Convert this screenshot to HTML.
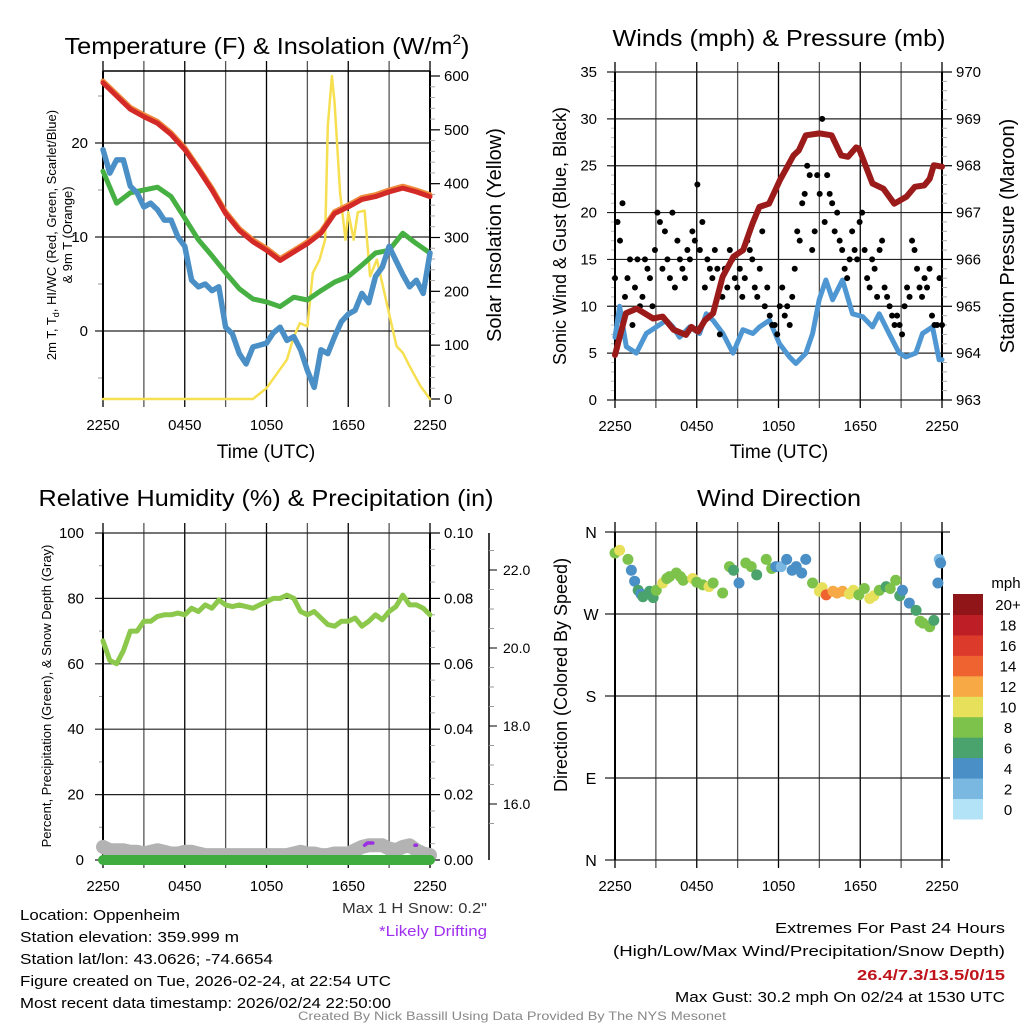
<!DOCTYPE html>
<html><head><meta charset="utf-8"><style>
html,body{margin:0;padding:0;background:#fff;}
svg{display:block;font-family:"Liberation Sans",sans-serif;}
</style></head><body>
<svg id="fig" width="1024" height="1024" viewBox="0 0 1024 1024" xmlns="http://www.w3.org/2000/svg"></svg>
<script>
// ---------- DATA ----------
const xTickLabels = ["2250","0450","1050","1650","2250"];
// Panel 1 (hourly, t=0..24)
const tempRed = [26.4,25,23.6,22.8,22.1,20.9,19.3,17.2,15,12.5,10.7,9.5,8.6,7.5,8.4,9.3,10.4,12.5,13.2,14,14.3,14.8,15.2,14.8,14.3];
const tempOrange = [26.6,25.2,23.8,23,22.3,21.1,19.5,17.4,15.2,12.7,10.9,9.7,8.8,7.7,8.6,9.5,10.6,12.7,13.4,14.2,14.5,15,15.4,15,14.5];
const heatWindChill = [17,13.6,14.7,15,15.3,14.3,12,9.7,8,6.2,4.5,3.4,3.1,2.6,3.6,3.3,4.3,5.2,5.8,7,8.3,8.6,10.4,9.3,8.3];
// dewpoint, half-hourly
const dewpoint = [19.3,16.8,18.2,18.2,15.4,14.7,13.2,13.6,12.9,11.8,11.8,10,9,5.4,4.7,5,4.3,4.7,0.4,-0.3,-2.4,-3.5,-1.7,-1.5,-1.3,-0.2,0.4,-1,-0.6,-2,-4.2,-6,-2,-2.4,-0.6,1,1.8,2.2,4,3,5.8,6.8,9,7.5,6,4.7,5.4,4,8.3];
const solarT = [0,11,12,13.5,14,14.45,15,15.4,15.9,16.3,16.5,16.8,17,17.4,17.8,18,18.4,18.7,19.2,19.6,20.1,20.6,21.1,21.55,22,22.5,23.3,24];
const solarVal = [0,0,20,73,116,141,135,234,259,296,507,600,550,383,296,347,296,347,350,228,259,203,147,98,86,61,24,0];
// Panel 2
const windT = [0,0.34,0.83,1.56,2.3,3.03,3.77,4.25,4.74,5.48,6.21,6.7,7.19,7.92,8.66,9.39,10.12,10.61,11.34,12.07,12.8,13.28,14.01,14.5,14.99,15.48,15.97,16.7,17.43,18.17,18.9,19.39,20.12,20.86,21.34,22.08,22.57,23.3,23.79,24];
const windSpeed = [6.7,10,5.7,5,7.1,7.8,8.5,7.8,6.7,7.8,7.1,9.2,8.5,7.1,5,7.5,7.1,7.8,8.5,6,4.6,3.9,5,7.1,10.7,12.8,10.7,12.8,9.2,8.9,7.8,9.2,7.1,5,4.6,5,7.1,7.8,4.3,4.3];
const gusts = [13,19,17,21, 11,13,15,8, 12,15,10,11, 15,14,13,10, 16,20,19,14, 18,15,13,20, 12,17,15,14, 13,16,15,18, 17,23,16,19, 12,15,14,13, 16,14,7,11, 14,12,16,15, 13,12,14,11, 13,17,16,15, 12,11,14,18, 10,12,9,8, 8,7,10,12, 9,10,8,11, 14,18,17,21, 22,25,24,16, 18,24,22,30, 19,24,22,21, 18,20,17,16, 14,13,15,18, 16,15,19,20, 16,13,12,15, 14,11,16,17, 12,11,10,9, 8,9,8,7, 10,12,11,17, 16,14,12,11, 13,12,14,9, 8,8,13,8];
const pressT = [0,0.8,1.6,2.8,3.5,4.3,5.2,5.6,6.1,6.6,7.2,7.9,8.7,9.4,10.1,10.6,11.3,12.1,13.1,13.5,14,15,15.9,16.6,17.1,17.7,17.9,18.9,19.7,20.5,21.4,22,22.7,23.1,23.4,24];
const pressVal = [963.96,964.85,964.95,964.74,964.78,964.5,964.39,964.56,964.46,964.7,964.85,965.63,966.06,966.2,966.77,967.12,967.19,967.69,968.22,968.33,968.65,968.69,968.65,968.22,968.19,968.39,968.37,967.62,967.51,967.19,967.34,967.55,967.58,967.72,968.01,967.98];
// Panel 3 (half-hourly)
const relHum = [67,61,60,64,70,70,73,73,74.5,75,75,75.5,75,77,76,78,77,79.5,78,77.5,78,77.5,77,78,79,80,80,81,80,76,75,76,74,72,71.5,73,73,74,71.5,73,75,73.5,76,77.5,81,78,78,77,75];
const snowDepth = [4,3,3,3,2.5,2.5,2,2.5,3,2.5,2,2,2.5,2.5,2,1.5,1.5,1.5,1.5,1.5,1.5,1.5,1.5,1.5,1.5,1.5,1.5,1.5,2,2.5,2,2,1.5,1.5,2,2,2,3,4,4.5,4.5,4.5,3.5,3,4,4.5,3,2,1.5];
const precip = [0,0,0,0,0,0,0,0,0,0,0,0,0,0,0,0,0,0,0,0,0,0,0,0,0];
// Panel 4
const dirT = [0,0.34,0.95,1.2,1.44,1.7,1.9,2.05,2.54,2.8,3.03,3.5,3.8,4,4.5,4.8,5,5.7,6,6.45,6.9,7.2,7.9,8.4,8.7,9.1,9.6,10,10.4,11.1,11.5,11.8,12.2,12.6,13,13.3,13.7,14,14.5,15,15.2,15.5,16,16.3,16.7,17.2,17.5,17.9,18.3,18.7,19,19.4,19.9,20.2,20.6,20.9,21.1,21.6,22.1,22.4,22.6,23.1,23.4,23.7,23.8,23.9];
const windDir = [337,340,330,318,306,296,292,289,295,288,296,304,309,311,315,311,307,309,305,302,300,304,293,322,318,304,326,322,313,330,320,322,322,330,318,322,315,330,304,295,299,291,295,293,295,292,296,291,298,287,290,296,300,298,307,290,296,282,274,262,260,256,263,304,330,326];
const dirSpeed = [7,10,8,4,4,6,4,6,6,6,8,10,8,8,8,7,7,10,7,8,10,7,7,8,6,4,7,7,6,8,8,4,2,3,4,4,4,4,7,10,10,14,11,12,12,10,10,8,8,10,10,8,6,7,7,6,4,4,6,8,8,7,6,4,2,4];
const cbLabels = ["0","2","4","6","8","10","12","14","16","18","20+"];
const cbColors = ["#b3e3f7","#7ab8e2","#4a8fc6","#4aa36c","#7dc24a","#e6e05a","#f6a944","#ef6330","#dc3a2b","#be1e26","#8f1518"];

// ---------- HELPERS ----------
const svg = document.getElementById('fig');
const NS = 'http://www.w3.org/2000/svg';
function mk(tag, attrs, parent){
  const e = document.createElementNS(NS, tag);
  for (const k in attrs) e.setAttribute(k, attrs[k]);
  (parent||svg).appendChild(e);
  return e;
}
function txt(s, x, y, size, anchor, parent, extra){
  const e = mk('text', Object.assign({x:x, y:y, 'font-size':size, 'text-anchor':anchor||'middle', fill:'#000'}, extra||{}), parent);
  e.textContent = s;
  return e;
}
function lin(d0,d1,p0,p1){ return v => p0 + (v-d0)/(d1-d0)*(p1-p0); }
function polyline(xs, ys, color, w, name, parent){
  const pts = xs.map((x,i)=>x.toFixed(1)+','+ys[i].toFixed(1)).join(' ');
  const e = mk('polyline', {points:pts, fill:'none', stroke:color, 'stroke-width':w, 'stroke-linejoin':'round', 'stroke-linecap':'round'}, parent);
  
  
  return e;
}
function grid(x0,x1,y0,y1,g){
  for(let i=0;i<=8;i++){
    const x = x0 + i*(x1-x0)/8;
    mk('line',{x1:x,y1:y0-10,x2:x,y2:y1+8,stroke:i%2? '#555':'#000','stroke-width':1.3},g);
  }
  for(let i=0;i<5;i++){
    const x = x0 + i*(x1-x0)/4;
    txt(xTickLabels[i], x, y1+31, 15, 'middle', g);
  }
}
function frame(x0,x1,y0,y1,g){
  mk('line',{x1:x0,y1:y0,x2:x0,y2:y1,stroke:'#000','stroke-width':2},g);
  mk('line',{x1:x1,y1:y0,x2:x1,y2:y1,stroke:'#000','stroke-width':2},g);
}
function hgrid(vals, sy, x0, x1, labX, g, fmt, anchor){
  vals.forEach(v=>{
    const y = sy(v);
    mk('line',{x1:x0-8,y1:y,x2:x1,y2:y,stroke:'#222','stroke-width':1.2},g);
    txt(fmt?fmt(v):String(v), labX, y+5, 15, anchor||'end', g);
  });
}
function rightAxis(vals, sy, x, g, fmt, minorVals){
  (minorVals||[]).forEach(v=>{ const y=sy(v); mk('line',{x1:x,y1:y,x2:x+5,y2:y,stroke:'#aaa','stroke-width':1},g); });
  vals.forEach(v=>{
    const y = sy(v);
    mk('line',{x1:x,y1:y,x2:x+10,y2:y,stroke:'#000','stroke-width':1.2},g);
    txt(fmt(v), x+14, y+5, 15, 'start', g);
  });
}
function range(a,b,s){ const r=[]; for(let v=a; v<=b+1e-9; v+=s) r.push(+v.toFixed(4)); return r; }

// ---------- PANEL 1 ----------
(function(){
  const g = mk('g',{});  
  const X0=103, X1=430, Y0=71, Y1=399;
  const sx = lin(0,24,X0,X1), sy = lin(0,20,331,143), sr = lin(0,600,399,76);
  const t = mk('text',{x:267,y:54,'font-size':23,'text-anchor':'middle',textLength:405,lengthAdjust:'spacingAndGlyphs'},g);
  t.innerHTML = 'Temperature (F) &amp; Insolation (W/m<tspan font-size="14" dy="-10">2</tspan><tspan dy="10">)</tspan>';
   
  grid(X0,X1,Y0,Y1,g);
  hgrid([0,10,20], sy, X0, X1, 88, g);
  [-5,5,15,25].forEach(v=>mk('line',{x1:X0-5,y1:sy(v),x2:X0,y2:sy(v),stroke:'#999'},g));
  mk('line',{x1:X0,y1:Y0,x2:X1,y2:Y0,stroke:'#000','stroke-width':1.5},g);
  frame(X0,X1,Y0,Y1,g);
  rightAxis(range(0,600,100), sr, X1, g, v=>String(v), range(0,600,20));
  const h=[...Array(25).keys()], hh=[...Array(49).keys()].map(i=>i/2);
  polyline(solarT.map(sx), solarVal.map(sr), '#f6df50', 2.5, 'solar-insolation-line', g);
  polyline(h.map(sx), heatWindChill.map(sy), '#47b043', 5, 'heat-index-wind-chill-line', g);
  polyline(hh.map(sx), dewpoint.map(sy), '#4a8fc6', 5.5, 'dewpoint-line', g);
  polyline(h.map(sx), tempOrange.map(sy), '#f08a3c', 5, 'nine-meter-temp-line', g);
  polyline(h.map(sx), tempRed.map(sy), '#d42a27', 5, 'two-meter-temp-line', g);
  const yl = mk('text',{'font-size':13,'text-anchor':'middle',transform:'translate(56,235) rotate(-90)'},g);
  yl.innerHTML='2m T, T<tspan font-size="9" dy="3">d</tspan><tspan dy="-3">, HI/WC (Red, Green, Scarlet/Blue)</tspan>';
  txt('& 9m T (Orange)',0,0,13,'middle',g,{transform:'translate(72,235) rotate(-90)'});
  txt('Solar Insolation (Yellow)',0,0,20,'middle',g,{transform:'translate(501,235) rotate(-90)'});
  txt('Time (UTC)',266,458,19,'middle',g);
})();

// ---------- PANEL 2 ----------
(function(){
  const g = mk('g',{});  
  const X0=615, X1=942, Y0=72, Y1=400;
  const sx = lin(0,24,X0,X1), sy = lin(0,35,Y1,Y0), sp = lin(963,970,Y1,Y0);
  txt('Winds (mph) & Pressure (mb)',779,46,23,'middle',g,{textLength:333,lengthAdjust:'spacingAndGlyphs'});
  grid(X0,X1,Y0,Y1,g);
  hgrid(range(0,35,5), sy, X0, X1, 597, g);
  range(1,34,1).forEach(v=>{ if(v%5) mk('line',{x1:X0-4,y1:sy(v),x2:X0,y2:sy(v),stroke:'#bbb'},g); });
  frame(X0,X1,Y0,Y1,g);
  rightAxis(range(963,970,1), sp, X1, g, v=>String(v), range(963,970,0.2));
  polyline(windT.map(sx), windSpeed.map(sy), '#4f97d2', 5, 'sonic-wind-line', g);
  gusts.forEach((v,i)=>{
    const c = mk('circle',{cx:sx(i*24/(gusts.length-1)),cy:sy(v),r:3,fill:'#000'},g);
     
  });
  polyline(pressT.map(sx), pressVal.map(sp), '#9b1b1b', 6, 'station-pressure-line', g);
  txt('Sonic Wind & Gust (Blue, Black)',0,0,18,'middle',g,{transform:'translate(566,236) rotate(-90)'});
  txt('Station Pressure (Maroon)',0,0,20,'middle',g,{transform:'translate(1014,236) rotate(-90)'});
  txt('Time (UTC)',779,458,19,'middle',g);
})();

// ---------- PANEL 3 ----------
(function(){
  const g = mk('g',{});  
  const X0=103, X1=430, Y0=533, Y1=860;
  const sx = lin(0,24,X0,X1), sy = lin(0,100,Y1,Y0), sp = lin(0,0.1,Y1,Y0), ss = lin(16,22,804,570);
  txt('Relative Humidity (%) & Precipitation (in)',266,506,23,'middle',g,{textLength:455,lengthAdjust:'spacingAndGlyphs'});
  grid(X0,X1,Y0,Y1,g);
  hgrid(range(0,100,20), sy, X0, X1, 84, g);
  range(10,90,20).forEach(v=>mk('line',{x1:X0-4,y1:sy(v),x2:X0,y2:sy(v),stroke:'#999'},g));
  frame(X0,X1,Y0,Y1,g);
  rightAxis(range(0,0.1,0.02), sp, X1, g, v=>v.toFixed(2), range(0,0.1,0.005));
  mk('line',{x1:489,y1:533,x2:489,y2:860,stroke:'#000','stroke-width':1.5},g);
  range(15.5,22.5,0.5).forEach(v=>{ const y=ss(v); if(y>=533&&y<=860) mk('line',{x1:489,y1:y,x2:494,y2:y,stroke:'#999'},g); });
  [16,18,20,22].forEach(v=>{ mk('line',{x1:489,y1:ss(v),x2:497,y2:ss(v),stroke:'#000'},g); txt(v.toFixed(1),503,ss(v)+5,14,'start',g); });
  const hh=[...Array(49).keys()].map(i=>i/2), h=[...Array(25).keys()];
  polyline(hh.map(sx), snowDepth.map(sy), '#b3b3b3', 14, 'snow-depth-line', g);
  polyline(h.map(sx), precip.map(sp), '#3eac3e', 10, 'precipitation-line', g);
  polyline(hh.map(sx), relHum.map(sy), '#8cc84b', 5, 'relative-humidity-line', g);
  polyline([sx(19.2),sx(19.4),sx(19.8)],[sy(4.5),sy(5.2),sy(5.2)],'#9b30e0',3.5,'drifting-mark',g);
  polyline([sx(22.9),sx(23)],[sy(4.5),sy(4.5)],'#9b30e0',3.5,'drifting-mark',g);
  txt('Percent, Precipitation (Green), & Snow Depth (Gray)',0,0,13,'middle',g,{transform:'translate(51,696) rotate(-90)'});
})();

// ---------- PANEL 4 ----------
(function(){
  const g = mk('g',{});  
  const X0=615, X1=942, Y0=532, Y1=860;
  const sx = lin(0,24,X0,X1), sy = lin(0,360,Y1,Y0);
  txt('Wind Direction',779,506,23,'middle',g,{textLength:164,lengthAdjust:'spacingAndGlyphs'});
  grid(X0,X1,Y0,Y1,g);
  const dl=['N','E','S','W','N'];
  [0,90,180,270,360].forEach((v,i)=>{
    mk('line',{x1:X0-10,y1:sy(v),x2:X1+8,y2:sy(v),stroke:'#222','stroke-width':1.2},g);
    txt(dl[i],591,sy(v)+6,16,'middle',g);
  });
  frame(X0,X1,Y0,Y1,g);
  windDir.forEach((d,i)=>{
    const bin = Math.min(10, Math.max(0, Math.round(dirSpeed[i]/2)));
    const c = mk('circle',{cx:sx(dirT[i]),cy:sy(d),r:5.5,fill:cbColors[bin]},g);
     
  });
  txt('Direction (Colored By Speed)',0,0,18,'middle',g,{transform:'translate(567,675) rotate(-90)'});
  const cb = mk('g',{},g);  
  const top=594, bot=819, bh=(bot-top)/11;
  cbColors.forEach((c,i)=>{
    const y = bot-(i+1)*bh;
    mk('rect',{x:953,y:y,width:30,height:bh+0.5,fill:c},cb);
    txt(cbLabels[i],1008,y+bh/2+6,15,'middle',cb);
  });
  txt('mph',1006,588,15,'middle',cb);
})();

// ---------- FOOTER ----------
(function(){
  const g = mk('g',{});  
  const lines = [['Location: Oppenheim',160],['Station elevation: 359.999 m',219],['Station lat/lon: 43.0626; -74.6654',253],['Figure created on Tue, 2026-02-24, at 22:54 UTC',371],['Most recent data timestamp: 2026/02/24 22:50:00',371]];
  lines.forEach((l,i)=>txt(l[0],20,920+i*22,15,'start',g,{textLength:l[1],lengthAdjust:'spacingAndGlyphs'}));
  txt('Max 1 H Snow: 0.2"',487,913,15,'end',g,{fill:'#333',textLength:145,lengthAdjust:'spacingAndGlyphs'});
  txt('*Likely Drifting',487,936,15,'end',g,{fill:'#a030f0',textLength:108,lengthAdjust:'spacingAndGlyphs'});
  txt('Extremes For Past 24 Hours',1005,933,15,'end',g,{textLength:230,lengthAdjust:'spacingAndGlyphs'});
  txt('(High/Low/Max Wind/Precipitation/Snow Depth)',1005,956,15,'end',g,{textLength:392,lengthAdjust:'spacingAndGlyphs'});
  txt('26.4/7.3/13.5/0/15',1005,980,15,'end',g,{fill:'#c0141b','font-weight':'bold',textLength:148,lengthAdjust:'spacingAndGlyphs'});
  txt('Max Gust: 30.2 mph On 02/24 at 1530 UTC',1005,1002,15,'end',g,{textLength:330,lengthAdjust:'spacingAndGlyphs'});
  txt('Created By Nick Bassill Using Data Provided By The NYS Mesonet',512,1020,12,'middle',g,{fill:'#888',textLength:428,lengthAdjust:'spacingAndGlyphs'});
})();
</script>
</body></html>
